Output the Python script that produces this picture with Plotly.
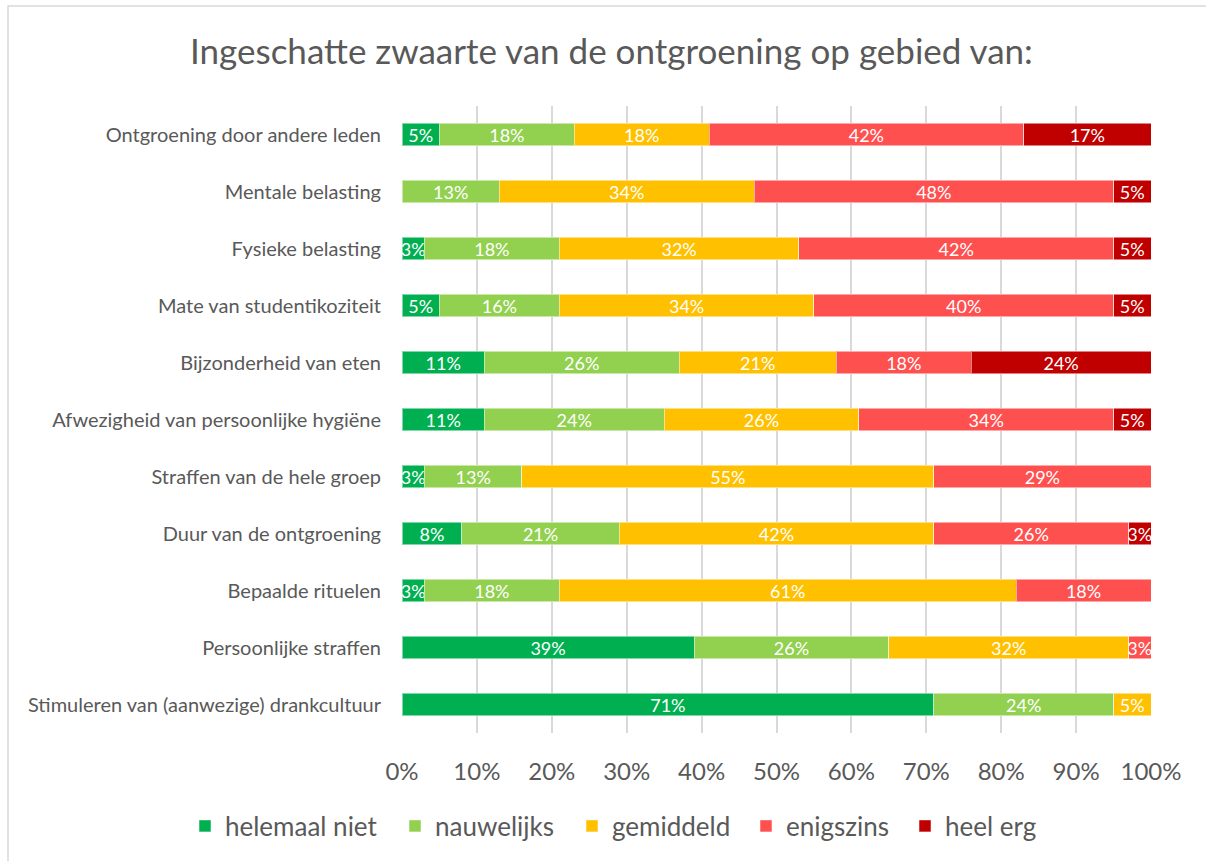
import plotly.graph_objects as go

categories = [
    "Ontgroening door andere leden",
    "Mentale belasting",
    "Fysieke belasting",
    "Mate van studentikoziteit",
    "Bijzonderheid van eten",
    "Afwezigheid van persoonlijke hygiëne",
    "Straffen van de hele groep",
    "Duur van de ontgroening",
    "Bepaalde rituelen",
    "Persoonlijke straffen",
    "Stimuleren van (aanwezige) drankcultuur",
]

helemaal_niet = [5, 0, 3, 5, 11, 11, 3, 8, 3, 39, 71]
nauwelijks    = [18, 13, 18, 16, 26, 24, 13, 21, 18, 26, 24]
gemiddeld     = [18, 34, 32, 34, 21, 26, 55, 42, 61, 32, 5]
enigszins     = [42, 48, 42, 40, 18, 34, 29, 26, 18, 3, 0]
heel_erg      = [17, 5, 5, 5, 24, 5, 0, 3, 0, 0, 0]

series_names = ["helemaal niet", "nauwelijks", "gemiddeld", "enigszins", "heel erg"]
series_values = [helemaal_niet, nauwelijks, gemiddeld, enigszins, heel_erg]
series_colors = ["#00B050", "#92D050", "#FFC000", "#FF5050", "#C00000"]

tick_vals = [0, 10, 20, 30, 40, 50, 60, 70, 80, 90, 100]
tick_text = [f"{v}%" for v in tick_vals]

FONT = "Lato"
GREY = "#595959"
legend_entry_widths = [165, 132, 129, 114, 100]  # styling: legend spacing

fig = go.Figure()
for name, vals, col, lw in zip(series_names, series_values, series_colors, legend_entry_widths):
    fig.add_trace(go.Bar(
        name=name,
        y=categories,
        x=vals,
        orientation="h",
        marker=dict(color=col, line=dict(color="rgba(255,255,255,0.5)", width=1)),
        text=[f"{v}%" if v else "" for v in vals],
        textposition="inside",
        insidetextanchor="middle",
        textangle=0,
        constraintext="none",
        textfont=dict(family=FONT, size=18, color="white"),
        hoverinfo="skip",
        cliponaxis=False,
        legendwidth=lw,
    ))

fig.update_layout(
    barmode="stack",
    bargap=0.6,
    width=1206,
    height=861,
    paper_bgcolor="white",
    plot_bgcolor="white",
    margin=dict(l=402, r=55, t=106, b=128, autoexpand=False),
    uniformtext=dict(minsize=18, mode="show"),
    title=dict(
        text="Ingeschatte zwaarte van de ontgroening op gebied van:",
        font=dict(family=FONT, size=35, color=GREY),
        x=0.507, xref="container", xanchor="center",
        y=1 - 52 / 861, yref="container", yanchor="middle",
    ),
    xaxis=dict(
        range=[0, 100],
        tickvals=tick_vals,
        ticktext=tick_text,
        tickfont=dict(family=FONT, size=24, color=GREY),
        showgrid=True,
        gridcolor="#D9D9D9",
        gridwidth=2,
        zeroline=False,
        showline=False,
        ticks="",
        ticklabelstandoff=22,
        fixedrange=True,
    ),
    yaxis=dict(
        autorange="reversed",
        tickfont=dict(family=FONT, size=20, color=GREY),
        showgrid=False,
        zeroline=False,
        showline=False,
        ticks="",
        ticklabelstandoff=20,
        fixedrange=True,
    ),
    legend=dict(
        orientation="h",
        xref="paper", x=(185 - 402) / 749, xanchor="left",
        yref="paper", y=(733 - 826) / 627, yanchor="middle",
        font=dict(family=FONT, size=26, color=GREY),
        traceorder="normal",
        itemwidth=30,
    ),
    shapes=[dict(
        type="rect", xref="paper", yref="paper",
        x0=(8 - 402) / 749, x1=1.2, y0=-0.4, y1=(733 - 6) / 627,
        line=dict(color="#D9D9D9", width=1.5), fillcolor="rgba(0,0,0,0)",
        layer="below",
    )],
)

fig.write_html(
    "out.html",
    config={"displayModeBar": False},
    post_script="document.body.style.margin='0';document.body.style.overflow='hidden';",
)
